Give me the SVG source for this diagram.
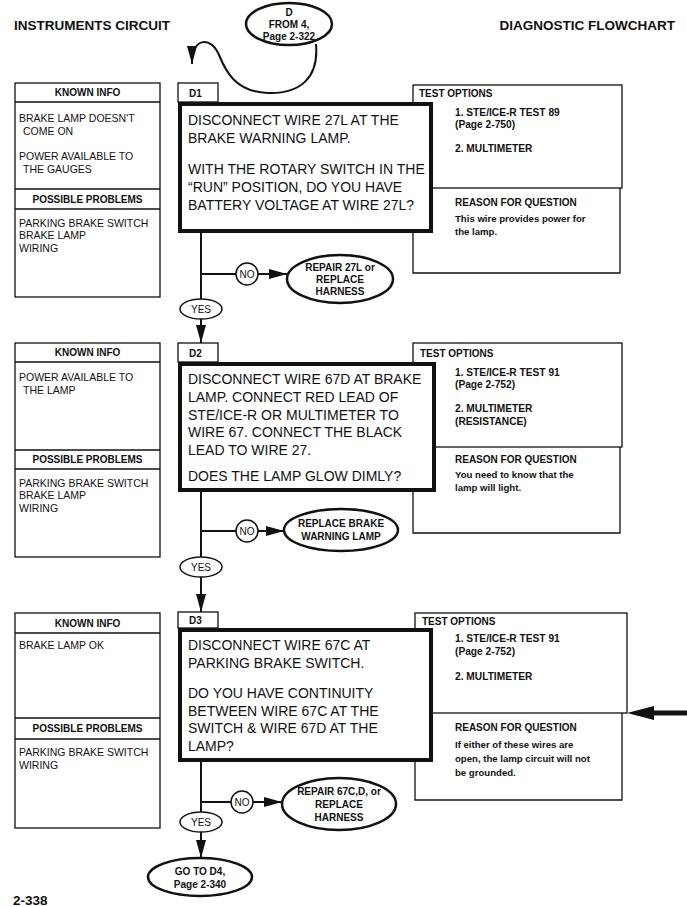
<svg xmlns="http://www.w3.org/2000/svg" width="687" height="907" viewBox="0 0 687 907">
<defs>
<marker id="ah" markerWidth="18" markerHeight="10" refX="18" refY="5" orient="auto" markerUnits="userSpaceOnUse"><path d="M0,0 L18,5 L0,10 Z" fill="#111"/></marker>
<style>
text{font-family:"Liberation Sans",Arial,sans-serif;fill:#111}
.h{font-size:13.5px;font-weight:bold}
.hd{font-size:10px;font-weight:bold}
.k{font-size:10.5px}
.c{font-size:10px}
.m{font-size:14px}
.t{font-size:10.2px;font-weight:bold}
.r{font-size:9.6px;font-weight:bold}
.e{font-size:10px;font-weight:bold;text-anchor:middle}
.thin{fill:#fff;stroke:#111;stroke-width:1.3}
.thick{fill:#fff;stroke:#111;stroke-width:4}
.ov{fill:#fff;stroke:#111;stroke-width:2.5}
.sm{fill:#fff;stroke:#111;stroke-width:1.5}
.ln{fill:none;stroke:#111;stroke-width:2}
.ln1{fill:none;stroke:#111;stroke-width:1.3}
</style>
</defs>
<rect width="687" height="907" fill="#fff"/>
<text class="h" x="14" y="30">INSTRUMENTS CIRCUIT</text>
<text class="h" x="675" y="30" text-anchor="end">DIAGNOSTIC FLOWCHART</text>
<text class="h" x="13" y="905">2-338</text>

<g id="connectors">
<path class="ln" d="M316,44 C319,78 300,94 268,93 C236,92 226,72 219,55 C211,36 193,38 192,60 L192,64" marker-end="url(#ah)"/>
<!-- D1 -->
<line class="ln" x1="201" y1="233" x2="201" y2="299"/>
<line class="ln" x1="201" y1="274" x2="236" y2="274"/>
<line class="ln" x1="258" y1="274" x2="287" y2="274" marker-end="url(#ah)"/>
<line class="ln" x1="201" y1="319" x2="201" y2="343" marker-end="url(#ah)"/>
<!-- D2 -->
<line class="ln" x1="201" y1="492" x2="201" y2="557"/>
<line class="ln" x1="201" y1="531" x2="236" y2="531"/>
<line class="ln" x1="258" y1="531" x2="284" y2="531" marker-end="url(#ah)"/>
<line class="ln" x1="201" y1="577" x2="201" y2="612" marker-end="url(#ah)"/>
<!-- D3 -->
<line class="ln" x1="201" y1="762" x2="201" y2="812"/>
<line class="ln" x1="201" y1="802" x2="231" y2="802"/>
<line class="ln" x1="253" y1="802" x2="282" y2="802" marker-end="url(#ah)"/>
<line class="ln" x1="201" y1="832" x2="201" y2="858" marker-end="url(#ah)"/>
<!-- side arrow -->
<line x1="687" y1="713" x2="650" y2="713" stroke="#111" stroke-width="5"/>
<path d="M627,713 L654,706 L654,720 Z" fill="#111"/>
</g>

<g id="start">
<ellipse class="ov" cx="289" cy="24" rx="43" ry="21"/>
<text class="e" x="289" y="16">D</text>
<text class="e" x="289" y="28">FROM 4,</text>
<text class="e" x="289" y="40">Page 2-322</text>
</g>

<!-- ===== D1 ===== -->
<g id="d1-known">
<rect class="thin" x="15" y="83" width="145" height="214"/>
<line class="ln1" x1="15" y1="102" x2="160" y2="102"/>
<line class="ln1" x1="15" y1="189" x2="160" y2="189"/>
<line class="ln1" x1="15" y1="209" x2="160" y2="209"/>
<text class="hd" x="87.5" y="96" text-anchor="middle">KNOWN INFO</text>
<text class="k" x="19" y="122">BRAKE LAMP DOESN'T</text>
<text class="k" x="23" y="135">COME ON</text>
<text class="k" x="19" y="160">POWER AVAILABLE TO</text>
<text class="k" x="23" y="173">THE GAUGES</text>
<text class="hd" x="87.5" y="203" text-anchor="middle">POSSIBLE PROBLEMS</text>
<text class="k" x="19" y="227">PARKING BRAKE SWITCH</text>
<text class="k" x="19" y="239">BRAKE LAMP</text>
<text class="k" x="19" y="252">WIRING</text>
</g>
<g id="d1-side">
<rect class="thin" x="413" y="85" width="209" height="103"/>
<path class="ln1" d="M413,188 V273 H620 V188"/>
<text class="hd" x="419" y="97">TEST OPTIONS</text>
<text class="t" x="455" y="116">1. STE/ICE-R TEST 89</text>
<text class="t" x="455" y="128">(Page 2-750)</text>
<text class="t" x="455" y="152">2. MULTIMETER</text>
<text class="hd" x="455" y="206">REASON FOR QUESTION</text>
<text class="r" x="455" y="222">This wire provides power for</text>
<text class="r" x="455" y="235">the lamp.</text>
</g>
<g id="d1">
<rect class="thin" x="178" y="83" width="40" height="19"/>
<text class="hd" x="189" y="97">D1</text>
<rect class="thick" x="180" y="104" width="251" height="127"/>
<text class="m" x="188" y="125">DISCONNECT WIRE 27L AT THE</text>
<text class="m" x="188" y="143">BRAKE WARNING LAMP.</text>
<text class="m" x="188" y="174">WITH THE ROTARY SWITCH IN THE</text>
<text class="m" x="188" y="192">“RUN” POSITION, DO YOU HAVE</text>
<text class="m" x="188" y="210">BATTERY VOLTAGE AT WIRE 27L?</text>
</g>
<g id="d1-no">
<circle class="sm" cx="247" cy="274" r="11"/>
<text class="c" x="247" y="278" text-anchor="middle">NO</text>
</g>
<g id="d1-repair">
<ellipse class="ov" cx="340" cy="279" rx="53" ry="24"/>
<text class="e" x="340" y="271">REPAIR 27L or</text>
<text class="e" x="340" y="283">REPLACE</text>
<text class="e" x="340" y="295">HARNESS</text>
</g>
<g id="d1-yes">
<ellipse class="sm" cx="201" cy="309" rx="21" ry="10"/>
<text class="c" x="201" y="313" text-anchor="middle">YES</text>
</g>

<!-- ===== D2 ===== -->
<g id="d2-known">
<rect class="thin" x="15" y="343" width="145" height="214"/>
<line class="ln1" x1="15" y1="362" x2="160" y2="362"/>
<line class="ln1" x1="15" y1="450" x2="160" y2="450"/>
<line class="ln1" x1="15" y1="469" x2="160" y2="469"/>
<text class="hd" x="87.5" y="356" text-anchor="middle">KNOWN INFO</text>
<text class="k" x="19" y="381">POWER AVAILABLE TO</text>
<text class="k" x="23" y="394">THE LAMP</text>
<text class="hd" x="87.5" y="463" text-anchor="middle">POSSIBLE PROBLEMS</text>
<text class="k" x="19" y="487">PARKING BRAKE SWITCH</text>
<text class="k" x="19" y="499">BRAKE LAMP</text>
<text class="k" x="19" y="512">WIRING</text>
</g>
<g id="d2-side">
<rect class="thin" x="413" y="343" width="209" height="104"/>
<path class="ln1" d="M413,447 V533 H620 V447"/>
<text class="hd" x="420" y="357">TEST OPTIONS</text>
<text class="t" x="455" y="376">1. STE/ICE-R TEST 91</text>
<text class="t" x="455" y="388">(Page 2-752)</text>
<text class="t" x="455" y="412">2. MULTIMETER</text>
<text class="t" x="455" y="425">(RESISTANCE)</text>
<text class="hd" x="455" y="463">REASON FOR QUESTION</text>
<text class="r" x="455" y="478">You need to know that the</text>
<text class="r" x="455" y="491">lamp will light.</text>
</g>
<g id="d2">
<rect class="thin" x="178" y="343" width="40" height="19"/>
<text class="hd" x="189" y="357">D2</text>
<rect class="thick" x="180" y="364" width="254" height="126"/>
<text class="m" x="188" y="384">DISCONNECT WIRE 67D AT BRAKE</text>
<text class="m" x="188" y="402">LAMP. CONNECT RED LEAD OF</text>
<text class="m" x="188" y="420">STE/ICE-R OR MULTIMETER TO</text>
<text class="m" x="188" y="437">WIRE 67. CONNECT THE BLACK</text>
<text class="m" x="188" y="455">LEAD TO WIRE 27.</text>
<text class="m" x="188" y="481">DOES THE LAMP GLOW DIMLY?</text>
</g>
<g id="d2-no">
<circle class="sm" cx="247" cy="531" r="11"/>
<text class="c" x="247" y="535" text-anchor="middle">NO</text>
</g>
<g id="d2-replace">
<ellipse class="ov" cx="341" cy="530" rx="57" ry="21"/>
<text class="e" x="341" y="527">REPLACE BRAKE</text>
<text class="e" x="341" y="540">WARNING LAMP</text>
</g>
<g id="d2-yes">
<ellipse class="sm" cx="201" cy="567" rx="21" ry="10"/>
<text class="c" x="201" y="571" text-anchor="middle">YES</text>
</g>

<!-- ===== D3 ===== -->
<g id="d3-known">
<rect class="thin" x="15" y="613" width="145" height="215"/>
<line class="ln1" x1="15" y1="633" x2="160" y2="633"/>
<line class="ln1" x1="15" y1="718" x2="160" y2="718"/>
<line class="ln1" x1="15" y1="739" x2="160" y2="739"/>
<text class="hd" x="87.5" y="627" text-anchor="middle">KNOWN INFO</text>
<text class="k" x="19" y="649">BRAKE LAMP OK</text>
<text class="hd" x="87.5" y="732" text-anchor="middle">POSSIBLE PROBLEMS</text>
<text class="k" x="19" y="756">PARKING BRAKE SWITCH</text>
<text class="k" x="19" y="769">WIRING</text>
</g>
<g id="d3-side">
<rect class="thin" x="415" y="613" width="212" height="100"/>
<path class="ln1" d="M415,713 V800 H622 V713"/>
<text class="hd" x="422" y="625">TEST OPTIONS</text>
<text class="t" x="455" y="642">1. STE/ICE-R TEST 91</text>
<text class="t" x="455" y="655">(Page 2-752)</text>
<text class="t" x="455" y="680">2. MULTIMETER</text>
<text class="hd" x="455" y="731">REASON FOR QUESTION</text>
<text class="r" x="455" y="748">If either of these wires are</text>
<text class="r" x="455" y="762">open, the lamp circuit will not</text>
<text class="r" x="455" y="776">be grounded.</text>
</g>
<g id="d3">
<rect class="thin" x="178" y="612" width="40" height="16"/>
<text class="hd" x="189" y="624">D3</text>
<rect class="thick" x="180" y="630" width="251" height="130"/>
<text class="m" x="188" y="650">DISCONNECT WIRE 67C AT</text>
<text class="m" x="188" y="668">PARKING BRAKE SWITCH.</text>
<text class="m" x="188" y="698">DO YOU HAVE CONTINUITY</text>
<text class="m" x="188" y="716">BETWEEN WIRE 67C AT THE</text>
<text class="m" x="188" y="733">SWITCH &amp; WIRE 67D AT THE</text>
<text class="m" x="188" y="751">LAMP?</text>
</g>
<g id="d3-no">
<circle class="sm" cx="242" cy="802" r="11"/>
<text class="c" x="242" y="806" text-anchor="middle">NO</text>
</g>
<g id="d3-repair">
<ellipse class="ov" cx="339" cy="804" rx="57" ry="26"/>
<text class="e" x="339" y="795">REPAIR 67C,D, or</text>
<text class="e" x="339" y="808">REPLACE</text>
<text class="e" x="339" y="821">HARNESS</text>
</g>
<g id="d3-yes">
<ellipse class="sm" cx="201" cy="822" rx="21" ry="10"/>
<text class="c" x="201" y="826" text-anchor="middle">YES</text>
</g>
<g id="goto-d4">
<ellipse class="ov" cx="200" cy="877" rx="52" ry="19"/>
<text class="e" x="200" y="875">GO TO D4,</text>
<text class="e" x="200" y="888">Page 2-340</text>
</g>
</svg>
